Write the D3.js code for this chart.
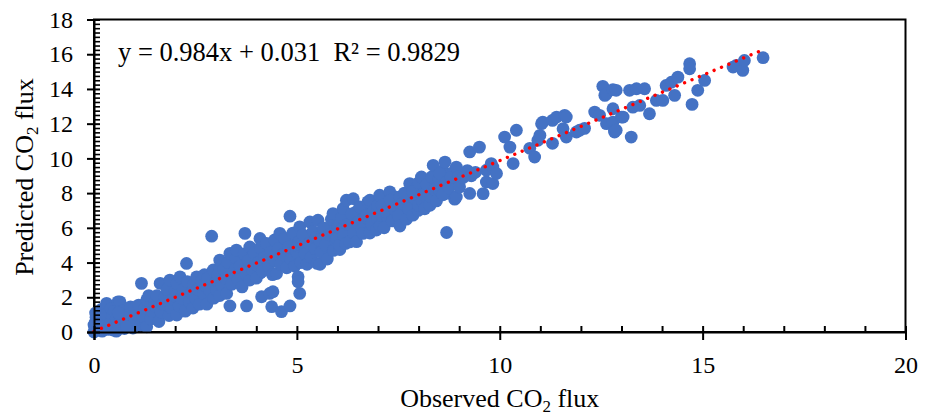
<!DOCTYPE html>
<html><head><meta charset="utf-8">
<script src="https://cdn.jsdelivr.net/npm/d3@7"></script>
<style>body{margin:0;background:#fff} svg{display:block}</style>
</head><body><svg id="chart" width="939" height="419"></svg>
<script>
// Observed vs predicted CO2 flux, [observed, predicted]
const points = [
[0.00,0.00],[0.02,0.25],[0.03,0.55],[0.05,0.85],[0.04,1.10],[0.00,0.40],[0.08,0.10],[0.10,0.40],[0.12,0.70],[0.15,1.00],
[0.18,1.30],[0.20,0.05],[0.22,0.55],[0.25,0.35],[0.28,0.65],[0.31,1.65],[0.30,1.00],[0.35,0.15],[0.40,0.50],[0.42,1.35],
[0.45,0.85],[0.50,1.20],[0.47,0.11],[0.55,0.05],[0.55,0.75],[0.59,1.74],[0.60,0.45],[0.64,1.74],[0.65,0.80],[0.70,1.25],
[0.75,0.20],[0.80,0.60],[0.85,1.00],[0.90,1.45],[0.96,0.23],[1.00,0.65],[1.05,1.10],[1.08,0.95],
[0.60,1.10],[0.80,0.30],[1.00,1.40],[1.20,1.20],[1.40,1.60],[1.60,1.90],[1.80,1.70],[1.90,2.20],
[1.10,1.55],[1.15,0.40],[1.17,2.80],[1.20,0.90],[1.25,1.35],[1.30,1.85],[1.30,0.30],[1.35,2.10],[1.40,0.75],[1.45,1.20],
[1.50,1.70],[1.52,1.45],[1.55,2.10],[1.60,0.60],[1.63,2.80],[1.65,1.15],[1.70,1.60],[1.75,2.05],[1.80,2.45],[1.85,0.95],
[1.87,2.99],[1.90,1.40],[1.95,1.90],[2.00,2.35],[2.02,2.05],[2.04,0.98],
[2.10,2.30],[2.20,1.60],[2.40,2.80],[2.60,2.40],[2.70,2.80],[2.80,2.20],[2.90,2.60],[3.00,3.40],
[2.05,2.80],[2.10,1.50],[2.12,3.18],[2.15,1.95],[2.20,2.45],[2.25,1.20],[2.28,3.95],[2.30,2.90],[2.35,1.75],[2.40,2.25],
[2.44,1.38],[2.45,2.70],[2.48,2.30],[2.50,1.95],[2.53,3.18],[2.55,2.45],[2.60,1.60],[2.65,2.95],[2.70,2.20],[2.72,3.30],
[2.75,2.65],[2.78,1.60],[2.80,3.10],[2.85,2.40],[2.90,5.52],[2.94,3.57],[2.95,1.95],[3.00,2.85],[3.02,2.42],
[3.10,3.60],[3.30,3.30],[3.50,3.90],[3.60,3.30],[3.70,4.00],[3.90,4.20],[4.00,4.60],[4.10,3.40],[4.20,3.90],
[3.04,2.95],[3.05,3.30],[3.10,4.14],[3.10,2.10],[3.15,2.70],[3.20,3.60],[3.25,3.10],[3.27,2.22],[3.30,4.00],[3.35,4.53],
[3.35,1.50],[3.40,2.75],[3.45,3.40],[3.48,3.60],[3.50,4.25],[3.51,4.72],[3.55,3.00],[3.60,3.80],[3.65,2.60],[3.70,4.50],
[3.72,5.68],[3.76,1.50],[3.75,3.30],[3.80,4.10],[3.84,2.99],[3.84,4.90],[3.90,3.60],[3.95,4.55],[4.00,3.10],[4.02,3.85],
[4.30,4.90],[4.40,4.30],[4.50,5.00],[4.60,4.30],[4.70,4.80],[4.75,4.10],[4.90,4.60],[4.95,5.30],[5.00,4.10],
[4.05,4.00],[4.09,5.39],[4.10,4.85],[4.13,2.03],[4.15,3.50],[4.20,4.30],[4.25,5.10],[4.30,3.80],[4.33,2.22],[4.35,4.60],
[4.38,1.46],[4.40,3.30],[4.41,2.32],[4.45,5.30],[4.45,4.10],[4.50,3.37],[4.52,4.50],[4.55,4.80],[4.58,5.68],[4.60,3.90],
[4.62,1.17],[4.65,4.45],[4.70,5.40],[4.75,3.70],[4.80,4.90],[4.83,6.67],[4.83,1.50],[4.85,4.20],[4.90,5.70],[4.95,3.80],
[5.00,4.60],[5.02,4.95],
[5.10,5.00],[5.20,5.40],[5.30,4.70],[5.40,5.20],[5.60,5.30],[5.70,5.80],[5.80,4.90],[5.90,6.20],[6.00,5.50],
[5.03,3.18],[5.03,2.89],[5.07,2.22],[5.07,6.06],[5.05,5.20],[5.10,4.00],[5.15,5.60],[5.20,4.50],[5.25,3.90],[5.30,5.10],
[5.32,6.34],[5.35,4.30],[5.40,5.80],[5.45,4.80],[5.48,5.45],[5.52,6.44],[5.50,3.95],[5.55,5.30],[5.57,3.90],[5.60,4.60],
[5.65,6.00],[5.70,5.00],[5.75,4.20],[5.80,5.60],[5.85,6.50],[5.89,6.82],[5.90,4.70],[5.95,5.30],[5.98,5.39],[6.00,6.10],
[6.02,6.05],
[6.10,5.90],[6.20,6.50],[6.30,5.60],[6.40,6.00],[6.45,6.90],[6.60,6.50],[6.65,7.00],[6.70,6.10],[6.80,6.80],[6.90,6.40],
[6.06,4.75],[6.05,5.00],[6.10,6.60],[6.14,7.11],[6.15,5.60],[6.20,5.10],[6.22,7.59],[6.25,6.20],[6.30,5.19],[6.35,6.80],
[6.39,7.68],[6.40,5.70],[6.47,5.20],[6.50,6.30],[6.55,7.20],[6.60,5.90],[6.63,5.68],[6.70,6.70],[6.75,7.50],[6.80,5.70],
[6.80,7.59],[6.85,6.20],[6.90,7.00],[6.96,5.87],[6.98,6.95],[7.00,6.50],
[7.00,7.30],[7.05,6.10],[7.10,6.70],[7.20,7.60],[7.25,6.50],[7.40,7.80],[7.45,6.60],[7.60,6.80],[7.70,7.70],[7.80,7.40],
[7.04,7.88],[7.10,7.30],[7.15,6.00],[7.20,6.90],[7.29,8.07],[7.30,7.60],[7.35,6.40],[7.40,7.10],[7.50,6.70],[7.52,7.45],
[7.54,6.10],[7.54,7.78],[7.60,7.40],[7.65,8.00],[7.70,6.50],[7.75,7.10],[7.78,8.55],[7.86,6.73],[7.90,7.70],[7.95,8.30],
[7.99,7.00],[8.00,7.30],[8.02,8.05],
[7.85,8.10],[8.00,8.60],[8.10,7.50],[8.20,8.00],[8.35,8.50],[8.40,7.90],[8.55,8.50],[8.60,9.30],[8.70,8.00],[8.80,8.50],
[8.85,9.20],[9.00,9.20],
[8.07,8.93],[8.10,7.90],[8.15,7.10],[8.20,8.50],[8.28,7.30],[8.30,7.80],[8.32,8.93],[8.36,9.60],[8.40,8.20],[8.44,7.55],
[8.48,8.40],[8.50,8.80],[8.52,8.17],[8.52,9.13],[8.60,7.90],[8.65,9.79],[8.69,8.64],[8.69,5.73],[8.75,8.30],[8.80,8.90],
[8.89,7.65],[8.93,7.78],[8.93,9.50],[8.98,8.95],
[9.01,8.36],[9.10,8.90],[9.20,9.30],[9.26,7.98],[9.26,10.37],[9.30,9.00],[9.40,9.20],[9.50,10.65],[9.59,7.97],[9.67,8.64],
[9.67,9.32],[9.79,9.70],[9.83,8.55],[9.83,9.50],[9.92,9.13],
[10.12,11.23],[10.25,10.65],[10.33,9.70],[10.41,11.62],[10.74,10.58],[10.86,10.08],[10.94,11.04],[10.99,11.33],[11.06,12.09],[11.03,12.00],
[11.30,12.19],[11.40,12.38],[11.60,12.48],[11.64,12.38],[11.56,11.71],[11.30,10.87],[11.64,11.23],[11.89,11.52],[11.97,11.62],[12.09,11.73],
[12.34,12.67],[12.46,12.48],[12.54,14.15],[12.59,13.63],[12.63,13.72],[12.63,12.00],[12.79,13.96],[12.79,12.09],[12.79,12.86],[12.83,11.62],
[12.83,11.52],[12.87,13.92],[12.87,11.62],[13.00,12.38],[13.04,12.38],[13.20,13.92],[13.24,11.23],[13.28,12.95],[13.37,14.01],[13.45,13.05],
[13.57,14.01],[13.69,12.57],[13.86,13.34],[14.02,13.34],[14.10,14.20],[14.23,14.39],[14.31,13.63],[14.39,14.68],[14.68,15.45],[14.68,15.16],
[14.74,13.11],[14.88,13.92],[15.05,14.49],[15.75,15.26],[15.83,15.35],[15.99,15.07],[16.03,15.64],[16.49,15.80]
];
const xTicks = [0, 5, 10, 15, 20];
const yTicks = [0, 2, 4, 6, 8, 10, 12, 14, 16, 18];
const xMinorTicks = [1,2,3,4,6,7,8,9,11,12,13,14,16,17,18,19];
const yMinorStep = 0.25;
const trend = {slope: 0.984, intercept: 0.031, r2: 0.9829};
const equationLabel = "y = 0.984x + 0.031  R\u00B2 = 0.9829";
const xTitle = ["Observed CO", "2", " flux"];
const yTitle = ["Predicted CO", "2", " flux"];

const svg = d3.select("#chart");
const FONT = "'Liberation Serif','Times New Roman',serif";
const L = 94, R = 905.5, T = 19.5, B = 332;
const x = d3.scaleLinear().domain([0, 20]).range([L, R]);
const y = d3.scaleLinear().domain([0, 18]).range([B, T]);

// frame
svg.append("rect").attr("x", L).attr("y", T).attr("width", R - L).attr("height", B - T)
  .attr("fill", "none").attr("stroke", "#000").attr("stroke-width", 2);

// points
svg.append("g").selectAll("circle").data(points).join("circle")
  .attr("cx", d => x(d[0])).attr("cy", d => y(d[1])).attr("r", 6.4)
  .attr("fill", "#4472C4");

// trendline
const xMax = d3.max(points, d => d[0]);
svg.append("line")
  .attr("x1", x(0)).attr("y1", y(trend.intercept))
  .attr("x2", x(xMax)).attr("y2", y(trend.slope * xMax + trend.intercept))
  .attr("stroke", "#FF0000").attr("stroke-width", 3.4)
  .attr("stroke-linecap", "round").attr("stroke-dasharray", "0.01 8");

// minor ticks
const yMinor = d3.range(0, 18 + 0.001, yMinorStep).filter(v => Math.abs(v / 2 - Math.round(v / 2)) > 0.01);
svg.append("g").attr("transform", `translate(0,${B})`)
  .call(d3.axisBottom(x).tickValues(xMinorTicks).tickSize(-6).tickFormat(""))
  .call(g => g.select(".domain").remove())
  .selectAll("line").attr("stroke", "#000").attr("stroke-width", 2);
svg.append("g").attr("transform", `translate(${L},0)`)
  .call(d3.axisLeft(y).tickValues(yMinor).tickSize(-6).tickFormat(""))
  .call(g => g.select(".domain").remove())
  .selectAll("line").attr("stroke", "#000").attr("stroke-width", 1.6);

// major x axis
const gx = svg.append("g").attr("transform", `translate(0,${B})`)
  .call(d3.axisBottom(x).tickValues(xTicks).tickSize(8).tickPadding(16));
gx.select(".domain").attr("stroke", "#000").attr("stroke-width", 2);
gx.selectAll(".tick line").attr("y1", -6).attr("y2", 8).attr("stroke", "#000").attr("stroke-width", 2);
gx.selectAll(".tick text").attr("font-family", FONT).attr("font-size", 24).attr("fill", "#000");

// major y axis
const gy = svg.append("g").attr("transform", `translate(${L},0)`)
  .call(d3.axisLeft(y).tickValues(yTicks).tickSize(7).tickPadding(14));
gy.select(".domain").attr("stroke", "#000").attr("stroke-width", 2);
gy.selectAll(".tick line").attr("x1", 6).attr("x2", -7).attr("stroke", "#000").attr("stroke-width", 2);
gy.selectAll(".tick text").attr("font-family", FONT).attr("font-size", 24).attr("fill", "#000");

// equation
svg.append("text").attr("x", 118).attr("y", 61)
  .attr("font-family", FONT).attr("font-size", 26.5).attr("fill", "#000")
  .attr("xml:space", "preserve").style("white-space", "pre")
  .text(equationLabel);

// axis titles
const xt = svg.append("text").attr("x", (L + R) / 2).attr("y", 407)
  .attr("text-anchor", "middle").attr("font-family", FONT).attr("font-size", 26).attr("fill", "#000");
xt.append("tspan").text(xTitle[0]);
xt.append("tspan").attr("font-size", 17).attr("dy", 5).text(xTitle[1]);
xt.append("tspan").attr("dy", -5).text(xTitle[2]);

const yt = svg.append("text").attr("transform", "translate(33,177) rotate(-90)")
  .attr("text-anchor", "middle").attr("font-family", FONT).attr("font-size", 26).attr("fill", "#000");
yt.append("tspan").text(yTitle[0]);
yt.append("tspan").attr("font-size", 17).attr("dy", 5).text(yTitle[1]);
yt.append("tspan").attr("dy", -5).text(yTitle[2]);
</script>
</body></html>
